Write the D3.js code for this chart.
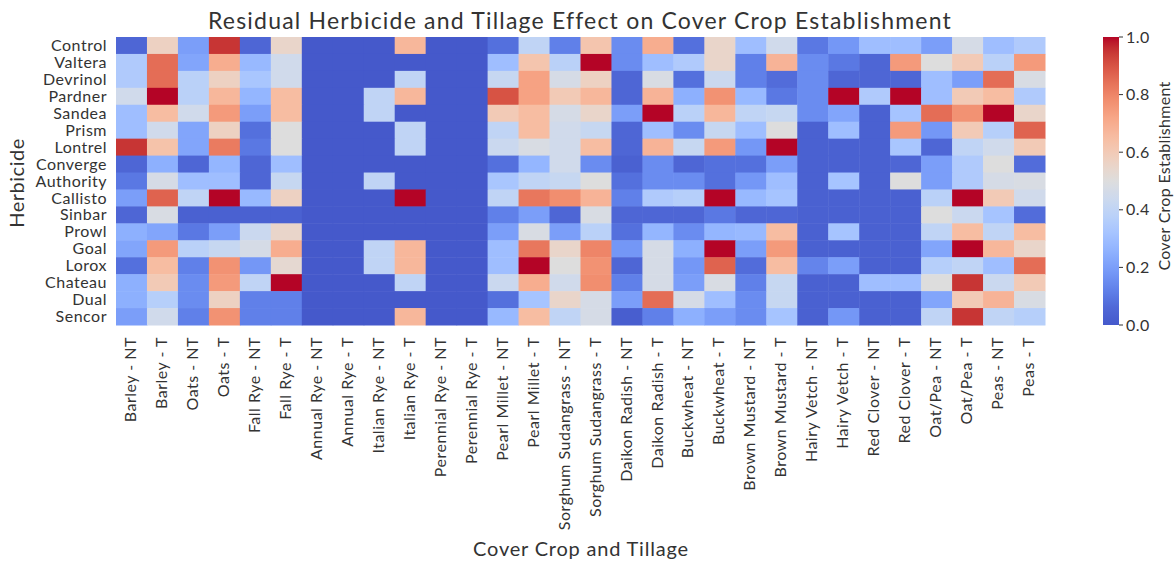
<!DOCTYPE html>
<html>
<head>
<meta charset="utf-8">
<script src="https://cdnjs.cloudflare.com/ajax/libs/d3/7.8.5/d3.min.js"></script>
<style>
  body { margin: 0; background: #fff; }
  text { font-family: Lato, "Open Sans", sans-serif; fill: #333; }
</style>
</head>
<body>
<div id="chart"></div>
<script>
// cover crop x tillage columns
const crops = ["Barley - NT","Barley - T","Oats - NT","Oats - T","Fall Rye - NT","Fall Rye - T",
  "Annual Rye - NT","Annual Rye - T","Italian Rye - NT","Italian Rye - T","Perennial Rye - NT","Perennial Rye - T",
  "Pearl Millet - NT","Pearl Millet - T","Sorghum Sudangrass - NT","Sorghum Sudangrass - T",
  "Daikon Radish - NT","Daikon Radish - T","Buckwheat - NT","Buckwheat - T","Brown Mustard - NT","Brown Mustard - T",
  "Hairy Vetch - NT","Hairy Vetch - T","Red Clover - NT","Red Clover - T","Oat/Pea - NT","Oat/Pea - T","Peas - NT","Peas - T"]

const herbicides = ["Control","Valtera","Devrinol","Pardner","Sandea","Prism","Lontrel","Converge",
  "Authority","Callisto","Sinbar","Prowl","Goal","Lorox","Chateau","Dual","Sencor"]

// one row of establishment values per herbicide
const control   = [0.05,0.57,0.2,0.95,0.05,0.55,0,0,0,0.67,0,0,0.08,0.4,0.12,0.62,0.15,0.7,0.08,0.55,0.3,0.45,0.1,0.18,0.3,0.3,0.2,0.47,0.3,0.35]
const valtera   = [0.35,0.85,0.22,0.7,0.28,0.45,0,0,0,0,0,0,0.3,0.62,0.38,1.0,0.15,0.3,0.35,0.55,0.12,0.68,0.15,0.1,0.05,0.75,0.5,0.6,0.38,0.75]
const devrinol  = [0.35,0.85,0.38,0.57,0.33,0.45,0,0,0,0.4,0,0,0.42,0.73,0.47,0.57,0.05,0.48,0.08,0.43,0.12,0.07,0.15,0.05,0.05,0.05,0.3,0.2,0.85,0.48]
const pardner   = [0.45,1.0,0.38,0.67,0.27,0.65,0,0,0.4,0.67,0,0,0.9,0.73,0.6,0.67,0.05,0.68,0.25,0.77,0.28,0.1,0.15,1.0,0.35,1.0,0.3,0.6,0.65,0.35]
const sandea    = [0.3,0.65,0.45,0.75,0.2,0.65,0,0,0.4,0,0,0,0.6,0.65,0.47,0.55,0.2,1.0,0.38,0.67,0.4,0.42,0.15,0.22,0.03,0.32,0.85,0.77,1.0,0.55]
const prism     = [0.3,0.45,0.22,0.57,0.08,0.5,0,0,0,0.4,0,0,0.4,0.65,0.45,0.42,0.05,0.3,0.15,0.42,0.3,0.5,0.03,0.3,0.03,0.75,0.18,0.6,0.37,0.87]
const lontrel   = [0.95,0.63,0.22,0.82,0.1,0.5,0,0,0,0.4,0,0,0.43,0.48,0.45,0.65,0.05,0.68,0.42,0.75,0.18,1.0,0.03,0.03,0.03,0.33,0.05,0.4,0.45,0.6]
const converge  = [0.05,0.25,0.05,0.27,0.05,0.3,0,0,0,0,0,0,0.08,0.27,0.45,0.15,0.03,0.15,0.05,0.08,0.08,0.2,0.03,0.03,0.03,0.05,0.2,0.35,0.5,0.07]
const authority = [0.1,0.47,0.3,0.3,0.05,0.42,0,0,0.4,0,0,0,0.33,0.4,0.42,0.5,0.08,0.15,0.15,0.08,0.18,0.3,0.03,0.32,0.03,0.5,0.2,0.35,0.47,0.48]
const callisto  = [0.2,0.87,0.4,1.0,0.28,0.57,0,0,0,1.0,0,0,0.4,0.83,0.78,0.68,0.12,0.35,0.37,1.0,0.28,0.32,0.03,0.03,0.03,0.03,0.38,1.0,0.6,0.45]
const sinbar    = [0.05,0.48,0.03,0.03,0.03,0.03,0,0,0,0,0,0,0.12,0.2,0.05,0.48,0.05,0.05,0.05,0.1,0.05,0.05,0.03,0.03,0.03,0.03,0.5,0.43,0.32,0.07]
const prowl     = [0.25,0.22,0.1,0.2,0.43,0.55,0,0,0,0,0,0,0.2,0.48,0.2,0.38,0.08,0.27,0.15,0.27,0.28,0.65,0.03,0.32,0.03,0.03,0.4,0.65,0.4,0.65]
const goal      = [0.22,0.75,0.38,0.42,0.47,0.7,0,0,0.4,0.67,0,0,0.3,0.83,0.55,0.8,0.18,0.47,0.25,1.0,0.2,0.75,0.03,0.03,0.03,0.03,0.22,1.0,0.67,0.55]
const lorox     = [0.08,0.65,0.12,0.77,0.18,0.53,0,0,0.4,0.67,0,0,0.3,1.0,0.5,0.77,0.05,0.47,0.18,0.87,0.07,0.65,0.13,0.2,0.03,0.03,0.37,0.4,0.3,0.85]
const chateau   = [0.25,0.6,0.15,0.75,0.4,1.0,0,0,0,0.4,0,0,0.43,0.7,0.45,0.78,0.12,0.47,0.2,0.48,0.12,0.42,0.03,0.03,0.3,0.3,0.5,0.95,0.43,0.6]
const dual      = [0.25,0.37,0.15,0.57,0.12,0.12,0,0,0,0,0,0,0.08,0.32,0.55,0.47,0.2,0.85,0.47,0.3,0.15,0.42,0.03,0.03,0.03,0.03,0.22,0.6,0.68,0.48]
const sencor    = [0.2,0.45,0.12,0.77,0.12,0.12,0,0,0,0.67,0,0,0.28,0.65,0.4,0.47,0.02,0.12,0.25,0.2,0.15,0.32,0.03,0.18,0.03,0.03,0.4,0.95,0.4,0.37]

const rows = [control,valtera,devrinol,pardner,sandea,prism,lontrel,converge,authority,callisto,sinbar,prowl,goal,lorox,chateau,dual,sencor]

const cbarTicks = [0, 0.2, 0.4, 0.6, 0.8, 1.0]

// coolwarm, sampled (low end a touch lighter to match the screenshot)
const coolwarm = ["#4559cb","#4a61d1","#5069d8","#5875e1","#6282ea","#6c8ef1","#779af7","#82a5fb",
  "#8db0fe","#98b9ff","#a3c2ff","#aec9fd","#b8d0f9","#c2d5f4","#ccd9ee","#d5dbe6","#dddddd",
  "#e5d8d1","#ecd3c5","#f1ccb8","#f5c4ac","#f7bba0","#f7b194","#f7a688","#f49a7b","#f18d6f",
  "#ec7f63","#e57058","#de604d","#d55042","#cb3e38","#c0282f","#b40426"]

const width = 1176, height = 561
const mLeft = 116, mRight = 1045, mTop = 37, mBottom = 325

const svg = d3.select("#chart").append("svg")
  .attr("width", width)
  .attr("height", height)

const x = d3.scaleBand().domain(crops).range([mLeft, mRight])
const y = d3.scaleBand().domain(herbicides).range([mTop, mBottom])
const color = d3.scaleSequential(d3.piecewise(d3.interpolateRgb, coolwarm)).domain([0, 1])

var cells = []
rows.forEach((r, i) => {
  r.forEach((v, j) => { cells.push({h: herbicides[i], c: crops[j], v: v}) })
})

svg.append("g").selectAll("rect")
  .data(cells)
  .join("rect")
  .attr("x", d => x(d.c))
  .attr("y", d => y(d.h))
  .attr("width", x.bandwidth() + 0.5)
  .attr("height", y.bandwidth() + 0.5)
  .attr("fill", d => color(d.v))

// y tick labels
svg.append("g").selectAll("text")
  .data(herbicides)
  .join("text")
  .attr("x", mLeft - 9)
  .attr("y", d => y(d) + y.bandwidth() / 2)
  .attr("dy", "0.35em")
  .attr("text-anchor", "end")
  .style("font-size", "16px")
  .style("letter-spacing", "0.5px")
  .text(d => d)

// x tick labels, rotated
svg.append("g").selectAll("text")
  .data(crops)
  .join("text")
  .attr("transform", d => `translate(${x(d) + x.bandwidth() / 2 - 1}, ${mBottom + 12}) rotate(-90)`)
  .attr("dy", "0.35em")
  .attr("text-anchor", "end")
  .style("font-size", "16px")
  .style("letter-spacing", "0.5px")
  .text(d => d)

// titles
svg.append("text")
  .attr("x", 580).attr("y", 29)
  .attr("text-anchor", "middle")
  .style("font-size", "23px")
  .style("letter-spacing", "1.2px")
  .text("Residual Herbicide and Tillage Effect on Cover Crop Establishment")

svg.append("text")
  .attr("x", 581).attr("y", 556)
  .attr("text-anchor", "middle")
  .style("font-size", "20px")
  .style("letter-spacing", "0.8px")
  .text("Cover Crop and Tillage")

svg.append("text")
  .attr("transform", "translate(24, 183) rotate(-90)")
  .attr("text-anchor", "middle")
  .style("font-size", "20px")
  .style("letter-spacing", "0.5px")
  .text("Herbicide")

// colorbar
const cbX = 1103, cbW = 16
const cy = d3.scaleLinear().domain([0, 1]).range([mBottom, mTop])

const grad = svg.append("defs").append("linearGradient")
  .attr("id", "cbar")
  .attr("x1", 0).attr("y1", 1).attr("x2", 0).attr("y2", 0)
grad.selectAll("stop")
  .data(d3.range(0, 1.0001, 0.02))
  .join("stop")
  .attr("offset", d => d)
  .attr("stop-color", d => color(d))

svg.append("rect")
  .attr("x", cbX).attr("y", mTop)
  .attr("width", cbW).attr("height", mBottom - mTop)
  .attr("fill", "url(#cbar)")

const cb = svg.append("g")
cb.selectAll("line")
  .data(cbarTicks)
  .join("line")
  .attr("x1", cbX + cbW).attr("x2", cbX + cbW + 4)
  .attr("y1", d => cy(d)).attr("y2", d => cy(d))
  .attr("stroke", "#333")
cb.selectAll("text")
  .data(cbarTicks)
  .join("text")
  .attr("x", cbX + cbW + 7)
  .attr("y", d => cy(d))
  .attr("dy", "0.35em")
  .style("font-size", "16px")
  .style("letter-spacing", "0.5px")
  .text(d => d.toFixed(1))

svg.append("text")
  .attr("transform", "translate(1170, 176) rotate(-90)")
  .attr("text-anchor", "middle")
  .style("font-size", "16px")
  .style("letter-spacing", "0.3px")
  .text("Cover Crop Establishment")
</script>
</body>
</html>
